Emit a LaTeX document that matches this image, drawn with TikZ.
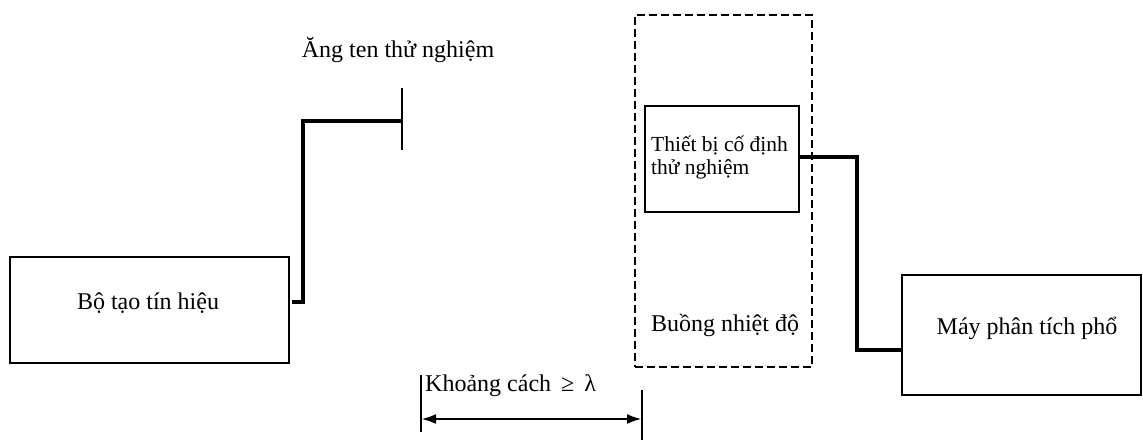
\documentclass[tikz,border=0pt]{standalone}
\usepackage{fontspec}
\setmainfont{Liberation Serif}
\usetikzlibrary{arrows.meta}
\tikzset{
  box/.style={draw, line width=1.4pt, minimum width=#1, inner sep=0pt},
  lbl/.style={inner sep=0pt, font=\fontsize{24}{28}\selectfont},
  lblsmall/.style={inner sep=0pt, font=\fontsize{21.5}{23}\selectfont, align=left},
  wire/.style={line width=3.2pt, line join=miter},
  thin/.style={line width=1.3pt},
}
\begin{document}
\begin{tikzpicture}[x=1pt,y=-1pt]
\useasboundingbox (0,0) rectangle (1143,440);
% boxes
\node[box=279pt, minimum height=106pt] (sg) at (149.5,310) {};
\node[lbl] (sgt) at (148,303) {Bộ tạo tín hiệu};
\node[box=239pt, minimum height=120pt] (sa) at (1021.5,335) {};
\node[lbl] (sat) at (1027,328) {Máy phân tích phổ};
\node[draw, dashed, dash pattern=on 8pt off 4pt, line width=2.6pt, minimum width=177pt, minimum height=352pt, inner sep=0pt] (ch) at (723.5,191) {};
\node[box=154pt, minimum height=106pt] (fx) at (722,159) {};
\node[lblsmall, anchor=west] (fxt) at (651,158) {Thiết bị cố định\\thử nghiệm};
\node[lbl] (cht) at (725,325) {Buồng nhiệt độ};
\node[lbl] (ant) at (398,50) {Ăng ten thử nghiệm};
% antenna
\coordinate (antTop) at (402,88);
\coordinate (antBot) at (402,150);
\coordinate (antMid) at (402,121);
\draw[line width=1.8pt] (antTop) -- (antBot);
\coordinate (sgOut) at (sg.east |- 0,302);
\draw[wire] ([xshift=2pt]sgOut) -- (303,302) -- (303,121) -- (antMid);
% fixture to analyzer
\coordinate (fxOut) at (fx.east |- 0,157);
\coordinate (saIn) at (sa.west |- 0,350);
\draw[wire] (fxOut) -- (857,157) -- (857,350) -- (saIn);
% distance
\coordinate (t1a) at (421,375);
\coordinate (t1b) at (421,432);
\coordinate (t2a) at (642,390);
\coordinate (t2b) at (642,440);
\draw[thin] (t1a) -- (t1b);
\draw[thin] (t2a) -- (t2b);
\coordinate (d1) at (421,419);
\coordinate (d2) at (642,419);
\draw[line width=2.8pt, {Latex[length=15pt,width=10pt]}-{Latex[length=15pt,width=10pt]}] (d1) -- (d2);
\node[lbl, anchor=west] (dt) at (425,386) {Khoảng cách \,≥\, λ};
\end{tikzpicture}
\end{document}
